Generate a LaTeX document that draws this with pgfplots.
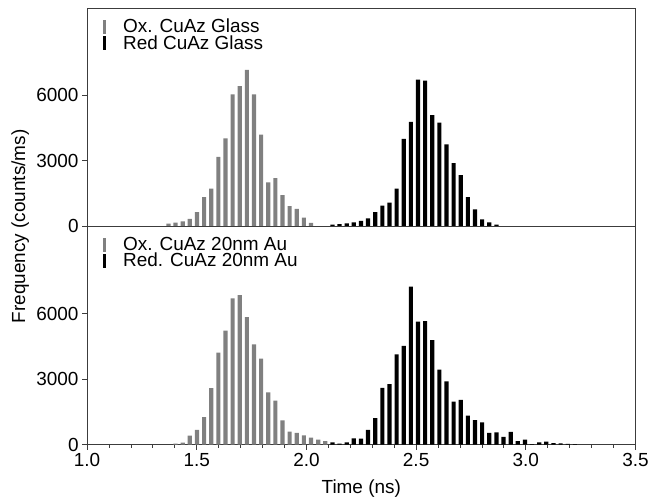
\documentclass[border=0pt]{standalone}
\usepackage{fontspec}
\setmainfont{Liberation Sans}
\usepackage{pgfplots}
\pgfplotsset{compat=1.18}
\definecolor{barGray}{RGB}{128,128,128}
\definecolor{axGray}{RGB}{60,60,60}

\pgfplotsset{
  panel/.style={
    width=550pt, height=219pt, scale only axis,
    xmin=1, xmax=3.5, ymin=0, ymax=10000,
    ybar, bar width=0.019,
    ytick={0,3000,6000}, ytick pos=left,
    scaled y ticks=false,
    yticklabel style={/pgf/number format/1000 sep={}},
    /pgf/number format/assume math mode=true,
    tick align=outside, major tick length=5pt, minor tick length=3pt,
    axis line style={axGray, line width=0.9pt},
    tick style={axGray, line width=0.8pt},
    tick label style={font=\fontsize{19}{20}\selectfont},
    label style={font=\fontsize{19}{20}\selectfont},
    legend cell align=left,
    legend style={draw=none, fill=none, at={(0,1)}, anchor=north west,
      xshift=13pt, yshift=-9pt, font=\fontsize{19}{20}\selectfont,
      row sep=1pt, nodes={inner sep=0pt}},
  },
  lgbar/.style={legend image code/.code={%
      \fill[##1, draw=none] (0pt,-7pt) rectangle (3pt,6.5pt);
      \path[draw=none, fill=none] (0pt,0pt) (20pt,0pt);}},
  greybar/.style={fill=barGray, draw=none, bar shift=0pt, lgbar},
  blackbar/.style={fill=black, draw=none, bar shift=0pt, lgbar},
}

\begin{document}
\begin{tikzpicture}
%% top panel: glass
\begin{axis}[panel, name=top, xtick=\empty]
\addplot[greybar] coordinates {
  (1.3710,123) (1.4035,169) (1.4360,231) (1.4685,338) (1.5010,656)
  (1.5335,1343) (1.5660,1732) (1.5985,3178) (1.6310,4028) (1.6635,6048)
  (1.6960,6427) (1.7285,7165) (1.7610,6048) (1.7935,4203) (1.8260,2009)
  (1.8585,2214) (1.8910,1425) (1.9235,923) (1.9560,800) (1.9885,400)
  (2.0210,154)
};
\addlegendentry{Ox. CuAz Glass}
\addplot[blackbar] coordinates {
  (2.1185,77) (2.1510,108) (2.1835,138) (2.2160,185) (2.2485,246)
  (2.2810,369) (2.3135,656) (2.3460,948) (2.3785,1087) (2.4110,1732)
  (2.4435,4008) (2.4760,4787) (2.5085,6714) (2.5410,6673) (2.5735,5094)
  (2.6060,4746) (2.6385,3752) (2.6710,2901) (2.7035,2347) (2.7360,1343)
  (2.7685,779) (2.8010,323) (2.8335,185) (2.8660,77)
};
\addlegendentry{Red CuAz Glass}
\end{axis}

%% bottom panel: 20nm Au
\begin{axis}[panel, name=bot, at={(top.south west)}, anchor=north west,
  xtick={1,1.5,...,3.5}, minor x tick num=4, xtick pos=bottom,
  xticklabel style={/pgf/number format/.cd, fixed, fixed zerofill, precision=1},
  xlabel={Time (ns)}, xlabel style={yshift=-6pt}]
\addplot[greybar] coordinates {
  (1.4035,47) (1.4360,93) (1.4685,420) (1.5010,680) (1.5335,1260)
  (1.5660,2590) (1.5985,4220) (1.6310,5220) (1.6635,6700) (1.6960,6850)
  (1.7285,5840) (1.7610,4600) (1.7935,3940) (1.8260,2400) (1.8585,2020)
  (1.8910,1120) (1.9235,600) (1.9560,540) (1.9885,430) (2.0210,330)
  (2.0535,230) (2.0860,170)
};
\addlegendentry{Ox. CuAz 20nm Au}
\addplot[blackbar] coordinates {
  (2.1185,110) (2.1510,47) (2.1835,110) (2.2160,295) (2.2485,280)
  (2.2810,680) (2.3135,1220) (2.3460,2600) (2.3785,2775) (2.4110,4140)
  (2.4435,4530) (2.4760,7240) (2.5085,5640) (2.5410,5660) (2.5735,4790)
  (2.6060,3440) (2.6385,2900) (2.6710,1980) (2.7035,2060) (2.7360,1330)
  (2.7685,1130) (2.8010,1020) (2.8335,540) (2.8660,570) (2.8985,360)
  (2.9310,590) (2.9635,170) (2.9960,230) (3.0285,30) (3.0610,110)
  (3.0935,140) (3.1260,78) (3.1585,62) (3.1910,40) (3.2235,30)
};
\addlegendentry{Red. CuAz 20nm Au}
\end{axis}

\node[rotate=90, font=\fontsize{19}{20}\selectfont]
  at ([xshift=-67pt]top.south west) {Frequency (counts/ms)};
\path ([shift={(-87.3pt,8pt)}]top.north west) rectangle ++(652pt,-501pt);
\end{tikzpicture}
\end{document}
